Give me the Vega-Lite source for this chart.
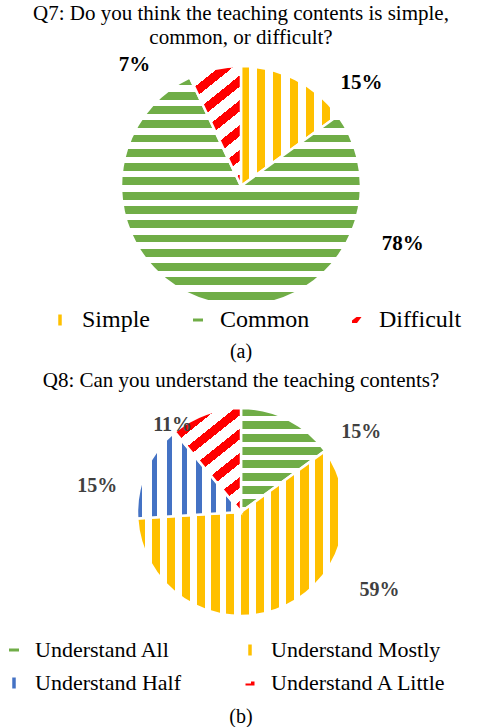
{
  "$schema": "https://vega.github.io/schema/vega-lite/v6.json",
  "padding": {"left": 0, "right": 0, "top": 2, "bottom": 0},
  "background": "white",
  "spacing": 8,
  "datasets": {
    "q7": [
      {"cat": "Simple", "pct": 0.15, "k": 1},
      {"cat": "Common", "pct": 0.78, "k": 2},
      {"cat": "Difficult", "pct": 0.07, "k": 3}
    ],
    "q8": [
      {"cat": "Understand All", "pct": 0.15, "k": 1},
      {"cat": "Understand Mostly", "pct": 0.59, "k": 2},
      {"cat": "Understand Half", "pct": 0.15, "k": 3},
      {"cat": "Understand A Little", "pct": 0.11, "k": 4}
    ]
  },
  "config": {
    "view": {"stroke": null},
    "title": {"font": "Liberation Serif", "fontWeight": "normal", "color": "#000000", "anchor": "middle"},
    "legend": {"labelFont": "Liberation Serif", "labelColor": "#000000", "symbolType": "square", "symbolStrokeWidth": 0, "padding": 0}
  },
  "resolve": {"scale": {"color": "independent", "theta": "independent"}, "legend": {"color": "independent"}},
  "vconcat": [
    {
      "title": {"text": ["Q7: Do you think the teaching contents is simple,", "common, or difficult?"], "fontSize": 21, "lineHeight": 24, "offset": 6, "anchor": "middle"},
      "resolve": {"scale": {"color": "independent", "theta": "independent"}, "legend": {"color": "independent"}},
      "vconcat": [
        {
          "data": {"name": "q7"},
          "width": 482,
          "height": 264,
          "title": {"text": "(a)", "orient": "bottom", "fontSize": 20, "offset": 10, "anchor": "middle"},
          "layer": [
            {
              "mark": {"type": "arc", "outerRadius": 120},
              "encoding": {
                "theta": {"field": "pct", "type": "quantitative", "stack": true},
                "order": {"field": "k", "type": "quantitative"},
                "color": {
                  "field": "cat", "type": "nominal",
                  "scale": {"domain": ["Simple", "Common", "Difficult"], "range": ["#FFC000", "#70AD47", "#FF0000"]},
                  "legend": {
                    "orient": "none", "legendX": 48, "legendY": 254, "direction": "horizontal", "columns": 3, "columnPadding": 35,
                    "labelFontSize": 24, "labelOffset": 10, "symbolSize": 100, "title": null, "labelLimit": 400,
                    "encode": {"symbols": {"update": {"shape": {"signal": "datum.value === 'Simple' ? 'M-0.35,-1.1H0.35V1.1H-0.35Z' : datum.value === 'Common' ? 'M-1,-0.3H1V0.3H-1Z' : 'M-1,0.1L-0.1,-0.6H0.9L0,0.6H-1Z'"}}}}
                  }
                }
              }
            },
            {
              "mark": {"type": "arc", "outerRadius": 120, "stroke": "#FFFFFF", "strokeWidth": 2.5},
              "encoding": {
                "theta": {"field": "pct", "type": "quantitative", "stack": true},
                "order": {"field": "k", "type": "quantitative"},
                "detail": {"field": "cat", "type": "nominal"},
                "fill": {
                  "condition": [
                    {"test": "datum.cat === 'Simple'", "value": {"gradient": "linear", "x1": 0, "y1": 0, "x2": 1, "y2": 0, "stops": [
                      {"offset": 0, "color": "#FFC000"}, {"offset": 0.0833, "color": "#FFC000"}, {"offset": 0.0833, "color": "#FFFFFF"}, {"offset": 0.1667, "color": "#FFFFFF"},
                      {"offset": 0.1667, "color": "#FFC000"}, {"offset": 0.25, "color": "#FFC000"}, {"offset": 0.25, "color": "#FFFFFF"}, {"offset": 0.3333, "color": "#FFFFFF"},
                      {"offset": 0.3333, "color": "#FFC000"}, {"offset": 0.4167, "color": "#FFC000"}, {"offset": 0.4167, "color": "#FFFFFF"}, {"offset": 0.5, "color": "#FFFFFF"},
                      {"offset": 0.5, "color": "#FFC000"}, {"offset": 0.5833, "color": "#FFC000"}, {"offset": 0.5833, "color": "#FFFFFF"}, {"offset": 0.6667, "color": "#FFFFFF"},
                      {"offset": 0.6667, "color": "#FFC000"}, {"offset": 0.75, "color": "#FFC000"}, {"offset": 0.75, "color": "#FFFFFF"}, {"offset": 0.8333, "color": "#FFFFFF"},
                      {"offset": 0.8333, "color": "#FFC000"}, {"offset": 0.9167, "color": "#FFC000"}, {"offset": 0.9167, "color": "#FFFFFF"}, {"offset": 1, "color": "#FFFFFF"}
                    ]}},
                    {"test": "datum.cat === 'Difficult'", "value": {"gradient": "linear", "x1": 0, "y1": 0, "x2": 0.41, "y2": 1.2, "stops": [
                      {"offset": 0, "color": "#FF0000"}, {"offset": 0.0692, "color": "#FF0000"}, {"offset": 0.0692, "color": "#FFFFFF"}, {"offset": 0.1538, "color": "#FFFFFF"},
                      {"offset": 0.1538, "color": "#FF0000"}, {"offset": 0.2231, "color": "#FF0000"}, {"offset": 0.2231, "color": "#FFFFFF"}, {"offset": 0.3077, "color": "#FFFFFF"},
                      {"offset": 0.3077, "color": "#FF0000"}, {"offset": 0.3769, "color": "#FF0000"}, {"offset": 0.3769, "color": "#FFFFFF"}, {"offset": 0.4615, "color": "#FFFFFF"},
                      {"offset": 0.4615, "color": "#FF0000"}, {"offset": 0.5308, "color": "#FF0000"}, {"offset": 0.5308, "color": "#FFFFFF"}, {"offset": 0.6154, "color": "#FFFFFF"},
                      {"offset": 0.6154, "color": "#FF0000"}, {"offset": 0.6846, "color": "#FF0000"}, {"offset": 0.6846, "color": "#FFFFFF"}, {"offset": 0.7692, "color": "#FFFFFF"},
                      {"offset": 0.7692, "color": "#FF0000"}, {"offset": 0.8385, "color": "#FF0000"}, {"offset": 0.8385, "color": "#FFFFFF"}, {"offset": 0.9231, "color": "#FFFFFF"},
                      {"offset": 0.9231, "color": "#FF0000"}, {"offset": 0.9923, "color": "#FF0000"}, {"offset": 0.9923, "color": "#FFFFFF"}, {"offset": 1, "color": "#FFFFFF"}
                    ]}}
                  ],
                  "value": {"gradient": "linear", "x1": 0, "y1": 0, "x2": 0, "y2": 1, "stops": [
                    {"offset": 0, "color": "#70AD47"}, {"offset": 0.0344, "color": "#70AD47"}, {"offset": 0.0344, "color": "#FFFFFF"}, {"offset": 0.0625, "color": "#FFFFFF"},
                    {"offset": 0.0625, "color": "#70AD47"}, {"offset": 0.0969, "color": "#70AD47"}, {"offset": 0.0969, "color": "#FFFFFF"}, {"offset": 0.125, "color": "#FFFFFF"},
                    {"offset": 0.125, "color": "#70AD47"}, {"offset": 0.1594, "color": "#70AD47"}, {"offset": 0.1594, "color": "#FFFFFF"}, {"offset": 0.1875, "color": "#FFFFFF"},
                    {"offset": 0.1875, "color": "#70AD47"}, {"offset": 0.2219, "color": "#70AD47"}, {"offset": 0.2219, "color": "#FFFFFF"}, {"offset": 0.25, "color": "#FFFFFF"},
                    {"offset": 0.25, "color": "#70AD47"}, {"offset": 0.2844, "color": "#70AD47"}, {"offset": 0.2844, "color": "#FFFFFF"}, {"offset": 0.3125, "color": "#FFFFFF"},
                    {"offset": 0.3125, "color": "#70AD47"}, {"offset": 0.3469, "color": "#70AD47"}, {"offset": 0.3469, "color": "#FFFFFF"}, {"offset": 0.375, "color": "#FFFFFF"},
                    {"offset": 0.375, "color": "#70AD47"}, {"offset": 0.4094, "color": "#70AD47"}, {"offset": 0.4094, "color": "#FFFFFF"}, {"offset": 0.4375, "color": "#FFFFFF"},
                    {"offset": 0.4375, "color": "#70AD47"}, {"offset": 0.4719, "color": "#70AD47"}, {"offset": 0.4719, "color": "#FFFFFF"}, {"offset": 0.5, "color": "#FFFFFF"},
                    {"offset": 0.5, "color": "#70AD47"}, {"offset": 0.5344, "color": "#70AD47"}, {"offset": 0.5344, "color": "#FFFFFF"}, {"offset": 0.5625, "color": "#FFFFFF"},
                    {"offset": 0.5625, "color": "#70AD47"}, {"offset": 0.5969, "color": "#70AD47"}, {"offset": 0.5969, "color": "#FFFFFF"}, {"offset": 0.625, "color": "#FFFFFF"},
                    {"offset": 0.625, "color": "#70AD47"}, {"offset": 0.6594, "color": "#70AD47"}, {"offset": 0.6594, "color": "#FFFFFF"}, {"offset": 0.6875, "color": "#FFFFFF"},
                    {"offset": 0.6875, "color": "#70AD47"}, {"offset": 0.7219, "color": "#70AD47"}, {"offset": 0.7219, "color": "#FFFFFF"}, {"offset": 0.75, "color": "#FFFFFF"},
                    {"offset": 0.75, "color": "#70AD47"}, {"offset": 0.7844, "color": "#70AD47"}, {"offset": 0.7844, "color": "#FFFFFF"}, {"offset": 0.8125, "color": "#FFFFFF"},
                    {"offset": 0.8125, "color": "#70AD47"}, {"offset": 0.8469, "color": "#70AD47"}, {"offset": 0.8469, "color": "#FFFFFF"}, {"offset": 0.875, "color": "#FFFFFF"},
                    {"offset": 0.875, "color": "#70AD47"}, {"offset": 0.9094, "color": "#70AD47"}, {"offset": 0.9094, "color": "#FFFFFF"}, {"offset": 0.9375, "color": "#FFFFFF"},
                    {"offset": 0.9375, "color": "#70AD47"}, {"offset": 0.9719, "color": "#70AD47"}, {"offset": 0.9719, "color": "#FFFFFF"}, {"offset": 1, "color": "#FFFFFF"}
                  ]}
                }
              }
            },
            {
              "transform": [
                {"stack": "pct", "groupby": [], "sort": [{"field": "k", "order": "ascending"}], "as": ["t0", "t1"]},
                {"filter": "datum.cat === 'Simple'"}
              ],
              "mark": {"type": "text", "radius": 154, "dx": -4, "dy": -12, "font": "Liberation Serif", "fontSize": 21, "fontWeight": "bold", "color": "#000000"},
              "encoding": {
                "theta": {"field": "t1", "type": "quantitative", "stack": null},
                "text": {"field": "pct", "type": "quantitative", "format": ".0%"}
              }
            },
            {
              "transform": [
                {"stack": "pct", "groupby": [], "sort": [{"field": "k", "order": "ascending"}], "as": ["t0", "t1"]},
                {"filter": "datum.cat === 'Difficult'"}
              ],
              "mark": {"type": "text", "radius": 163, "dx": -37, "dy": 26, "font": "Liberation Serif", "fontSize": 21, "fontWeight": "bold", "color": "#000000"},
              "encoding": {
                "theta": {"field": "t0", "type": "quantitative", "stack": null},
                "text": {"field": "pct", "type": "quantitative", "format": ".0%"}
              }
            },
            {
              "transform": [
                {"stack": "pct", "groupby": [], "sort": [{"field": "k", "order": "ascending"}], "as": ["t0", "t1"]},
                {"filter": "datum.cat === 'Common'"}
              ],
              "mark": {"type": "text", "radius": 164, "dx": 29, "dy": 154, "font": "Liberation Serif", "fontSize": 21, "fontWeight": "bold", "color": "#000000"},
              "encoding": {
                "theta": {"field": "t0", "type": "quantitative", "stack": null},
                "text": {"field": "pct", "type": "quantitative", "format": ".0%"}
              }
            }
          ]
        }
      ]
    },
    {
      "title": {"text": "Q8: Can you understand the teaching contents?", "fontSize": 21, "offset": 6, "anchor": "middle"},
      "resolve": {"scale": {"color": "independent", "theta": "independent"}, "legend": {"color": "independent"}},
      "vconcat": [
        {
          "data": {"name": "q8"},
          "width": 482,
          "height": 230,
          "title": {"text": "(b)", "orient": "bottom", "fontSize": 20, "offset": 13, "anchor": "middle"},
          "layer": [
            {
              "mark": {"type": "arc", "outerRadius": 104},
              "encoding": {
                "theta": {"field": "pct", "type": "quantitative", "stack": true},
                "order": {"field": "k", "type": "quantitative"},
                "color": {
                  "field": "cat", "type": "nominal",
                  "scale": {"domain": ["Understand All", "Understand Mostly", "Understand Half", "Understand A Little"], "range": ["#70AD47", "#FFC000", "#4472C4", "#FF0000"]},
                  "legend": {
                    "orient": "none", "legendX": 3, "legendY": 242, "direction": "horizontal", "columns": 2, "columnPadding": 57, "rowPadding": 11,
                    "labelFontSize": 22, "labelOffset": 10, "symbolSize": 100, "title": null, "labelLimit": 400,
                    "encode": {"symbols": {"update": {"shape": {"signal": "datum.value === 'Understand All' ? 'M-1,-0.3H1V0.3H-1Z' : datum.value === 'Understand A Little' ? 'M-0.9,0.1H0.2V-0.3H0.9V0.5H-0.9Z' : 'M-0.35,-1.1H0.35V1.1H-0.35Z'"}}}}
                  }
                }
              }
            },
            {
              "mark": {"type": "arc", "outerRadius": 104, "stroke": "#FFFFFF", "strokeWidth": 2.5},
              "encoding": {
                "theta": {"field": "pct", "type": "quantitative", "stack": true},
                "order": {"field": "k", "type": "quantitative"},
                "detail": {"field": "cat", "type": "nominal"},
                "fill": {
                  "condition": [
                    {"test": "datum.cat === 'Understand All'", "value": {"gradient": "linear", "x1": 0, "y1": 0, "x2": 0, "y2": 1, "stops": [
                      {"offset": 0, "color": "#70AD47"}, {"offset": 0.075, "color": "#70AD47"}, {"offset": 0.075, "color": "#FFFFFF"}, {"offset": 0.125, "color": "#FFFFFF"},
                      {"offset": 0.125, "color": "#70AD47"}, {"offset": 0.2, "color": "#70AD47"}, {"offset": 0.2, "color": "#FFFFFF"}, {"offset": 0.25, "color": "#FFFFFF"},
                      {"offset": 0.25, "color": "#70AD47"}, {"offset": 0.325, "color": "#70AD47"}, {"offset": 0.325, "color": "#FFFFFF"}, {"offset": 0.375, "color": "#FFFFFF"},
                      {"offset": 0.375, "color": "#70AD47"}, {"offset": 0.45, "color": "#70AD47"}, {"offset": 0.45, "color": "#FFFFFF"}, {"offset": 0.5, "color": "#FFFFFF"},
                      {"offset": 0.5, "color": "#70AD47"}, {"offset": 0.575, "color": "#70AD47"}, {"offset": 0.575, "color": "#FFFFFF"}, {"offset": 0.625, "color": "#FFFFFF"},
                      {"offset": 0.625, "color": "#70AD47"}, {"offset": 0.7, "color": "#70AD47"}, {"offset": 0.7, "color": "#FFFFFF"}, {"offset": 0.75, "color": "#FFFFFF"},
                      {"offset": 0.75, "color": "#70AD47"}, {"offset": 0.825, "color": "#70AD47"}, {"offset": 0.825, "color": "#FFFFFF"}, {"offset": 0.875, "color": "#FFFFFF"},
                      {"offset": 0.875, "color": "#70AD47"}, {"offset": 0.95, "color": "#70AD47"}, {"offset": 0.95, "color": "#FFFFFF"}, {"offset": 1, "color": "#FFFFFF"}
                    ]}},
                    {"test": "datum.cat === 'Understand Mostly'", "value": {"gradient": "linear", "x1": 0, "y1": 0, "x2": 1, "y2": 0, "stops": [
                      {"offset": 0, "color": "#FFC000"}, {"offset": 0.0393, "color": "#FFC000"}, {"offset": 0.0393, "color": "#FFFFFF"}, {"offset": 0.0714, "color": "#FFFFFF"},
                      {"offset": 0.0714, "color": "#FFC000"}, {"offset": 0.1107, "color": "#FFC000"}, {"offset": 0.1107, "color": "#FFFFFF"}, {"offset": 0.1429, "color": "#FFFFFF"},
                      {"offset": 0.1429, "color": "#FFC000"}, {"offset": 0.1821, "color": "#FFC000"}, {"offset": 0.1821, "color": "#FFFFFF"}, {"offset": 0.2143, "color": "#FFFFFF"},
                      {"offset": 0.2143, "color": "#FFC000"}, {"offset": 0.2536, "color": "#FFC000"}, {"offset": 0.2536, "color": "#FFFFFF"}, {"offset": 0.2857, "color": "#FFFFFF"},
                      {"offset": 0.2857, "color": "#FFC000"}, {"offset": 0.325, "color": "#FFC000"}, {"offset": 0.325, "color": "#FFFFFF"}, {"offset": 0.3571, "color": "#FFFFFF"},
                      {"offset": 0.3571, "color": "#FFC000"}, {"offset": 0.3964, "color": "#FFC000"}, {"offset": 0.3964, "color": "#FFFFFF"}, {"offset": 0.4286, "color": "#FFFFFF"},
                      {"offset": 0.4286, "color": "#FFC000"}, {"offset": 0.4679, "color": "#FFC000"}, {"offset": 0.4679, "color": "#FFFFFF"}, {"offset": 0.5, "color": "#FFFFFF"},
                      {"offset": 0.5, "color": "#FFC000"}, {"offset": 0.5393, "color": "#FFC000"}, {"offset": 0.5393, "color": "#FFFFFF"}, {"offset": 0.5714, "color": "#FFFFFF"},
                      {"offset": 0.5714, "color": "#FFC000"}, {"offset": 0.6107, "color": "#FFC000"}, {"offset": 0.6107, "color": "#FFFFFF"}, {"offset": 0.6429, "color": "#FFFFFF"},
                      {"offset": 0.6429, "color": "#FFC000"}, {"offset": 0.6821, "color": "#FFC000"}, {"offset": 0.6821, "color": "#FFFFFF"}, {"offset": 0.7143, "color": "#FFFFFF"},
                      {"offset": 0.7143, "color": "#FFC000"}, {"offset": 0.7536, "color": "#FFC000"}, {"offset": 0.7536, "color": "#FFFFFF"}, {"offset": 0.7857, "color": "#FFFFFF"},
                      {"offset": 0.7857, "color": "#FFC000"}, {"offset": 0.825, "color": "#FFC000"}, {"offset": 0.825, "color": "#FFFFFF"}, {"offset": 0.8571, "color": "#FFFFFF"},
                      {"offset": 0.8571, "color": "#FFC000"}, {"offset": 0.8964, "color": "#FFC000"}, {"offset": 0.8964, "color": "#FFFFFF"}, {"offset": 0.9286, "color": "#FFFFFF"},
                      {"offset": 0.9286, "color": "#FFC000"}, {"offset": 0.9679, "color": "#FFC000"}, {"offset": 0.9679, "color": "#FFFFFF"}, {"offset": 1, "color": "#FFFFFF"}
                    ]}},
                    {"test": "datum.cat === 'Understand Half'", "value": {"gradient": "linear", "x1": 0, "y1": 0, "x2": 1, "y2": 0, "stops": [
                      {"offset": 0, "color": "#4472C4"}, {"offset": 0.05, "color": "#4472C4"}, {"offset": 0.05, "color": "#FFFFFF"}, {"offset": 0.1429, "color": "#FFFFFF"},
                      {"offset": 0.1429, "color": "#4472C4"}, {"offset": 0.1929, "color": "#4472C4"}, {"offset": 0.1929, "color": "#FFFFFF"}, {"offset": 0.2857, "color": "#FFFFFF"},
                      {"offset": 0.2857, "color": "#4472C4"}, {"offset": 0.3357, "color": "#4472C4"}, {"offset": 0.3357, "color": "#FFFFFF"}, {"offset": 0.4286, "color": "#FFFFFF"},
                      {"offset": 0.4286, "color": "#4472C4"}, {"offset": 0.4786, "color": "#4472C4"}, {"offset": 0.4786, "color": "#FFFFFF"}, {"offset": 0.5714, "color": "#FFFFFF"},
                      {"offset": 0.5714, "color": "#4472C4"}, {"offset": 0.6214, "color": "#4472C4"}, {"offset": 0.6214, "color": "#FFFFFF"}, {"offset": 0.7143, "color": "#FFFFFF"},
                      {"offset": 0.7143, "color": "#4472C4"}, {"offset": 0.7643, "color": "#4472C4"}, {"offset": 0.7643, "color": "#FFFFFF"}, {"offset": 0.8571, "color": "#FFFFFF"},
                      {"offset": 0.8571, "color": "#4472C4"}, {"offset": 0.9071, "color": "#4472C4"}, {"offset": 0.9071, "color": "#FFFFFF"}, {"offset": 1, "color": "#FFFFFF"}
                    ]}}
                  ],
                  "value": {"gradient": "linear", "x1": 0, "y1": 0, "x2": 0.61, "y2": 1.2, "stops": [
                    {"offset": 0, "color": "#FF0000"}, {"offset": 0.0692, "color": "#FF0000"}, {"offset": 0.0692, "color": "#FFFFFF"}, {"offset": 0.1538, "color": "#FFFFFF"},
                    {"offset": 0.1538, "color": "#FF0000"}, {"offset": 0.2231, "color": "#FF0000"}, {"offset": 0.2231, "color": "#FFFFFF"}, {"offset": 0.3077, "color": "#FFFFFF"},
                    {"offset": 0.3077, "color": "#FF0000"}, {"offset": 0.3769, "color": "#FF0000"}, {"offset": 0.3769, "color": "#FFFFFF"}, {"offset": 0.4615, "color": "#FFFFFF"},
                    {"offset": 0.4615, "color": "#FF0000"}, {"offset": 0.5308, "color": "#FF0000"}, {"offset": 0.5308, "color": "#FFFFFF"}, {"offset": 0.6154, "color": "#FFFFFF"},
                    {"offset": 0.6154, "color": "#FF0000"}, {"offset": 0.6846, "color": "#FF0000"}, {"offset": 0.6846, "color": "#FFFFFF"}, {"offset": 0.7692, "color": "#FFFFFF"},
                    {"offset": 0.7692, "color": "#FF0000"}, {"offset": 0.8385, "color": "#FF0000"}, {"offset": 0.8385, "color": "#FFFFFF"}, {"offset": 0.9231, "color": "#FFFFFF"},
                    {"offset": 0.9231, "color": "#FF0000"}, {"offset": 0.9923, "color": "#FF0000"}, {"offset": 0.9923, "color": "#FFFFFF"}, {"offset": 1, "color": "#FFFFFF"}
                  ]}
                }
              }
            },
            {
              "transform": [
                {"stack": "pct", "groupby": [], "sort": [{"field": "k", "order": "ascending"}], "as": ["t0", "t1"]},
                {"filter": "datum.cat === 'Understand All'"}
              ],
              "mark": {"type": "text", "radius": 140, "dx": 7, "dy": 2, "font": "Liberation Serif", "fontSize": 20, "fontWeight": "bold", "color": "#404040"},
              "encoding": {
                "theta": {"field": "t1", "type": "quantitative", "stack": null},
                "text": {"field": "pct", "type": "quantitative", "format": ".0%"}
              }
            },
            {
              "transform": [
                {"stack": "pct", "groupby": [], "sort": [{"field": "k", "order": "ascending"}], "as": ["t0", "t1"]},
                {"filter": "datum.cat === 'Understand A Little'"}
              ],
              "mark": {"type": "text", "radius": 112, "dx": 3, "dy": -1, "font": "Liberation Serif", "fontSize": 20, "fontWeight": "bold", "color": "#404040"},
              "encoding": {
                "theta": {"field": "t0", "type": "quantitative", "stack": null},
                "text": {"field": "pct", "type": "quantitative", "format": ".0%"}
              }
            },
            {
              "transform": [
                {"stack": "pct", "groupby": [], "sort": [{"field": "k", "order": "ascending"}], "as": ["t0", "t1"]},
                {"filter": "datum.cat === 'Understand Half'"}
              ],
              "mark": {"type": "text", "radius": 142, "dx": -2, "dy": -35, "font": "Liberation Serif", "fontSize": 20, "fontWeight": "bold", "color": "#404040"},
              "encoding": {
                "theta": {"field": "t0", "type": "quantitative", "stack": null},
                "text": {"field": "pct", "type": "quantitative", "format": ".0%"}
              }
            },
            {
              "transform": [
                {"stack": "pct", "groupby": [], "sort": [{"field": "k", "order": "ascending"}], "as": ["t0", "t1"]},
                {"filter": "datum.cat === 'Understand Mostly'"}
              ],
              "mark": {"type": "text", "radius": 149, "dx": 18, "dy": 166, "font": "Liberation Serif", "fontSize": 20, "fontWeight": "bold", "color": "#404040"},
              "encoding": {
                "theta": {"field": "t0", "type": "quantitative", "stack": null},
                "text": {"field": "pct", "type": "quantitative", "format": ".0%"}
              }
            }
          ]
        }
      ]
    }
  ]
}
